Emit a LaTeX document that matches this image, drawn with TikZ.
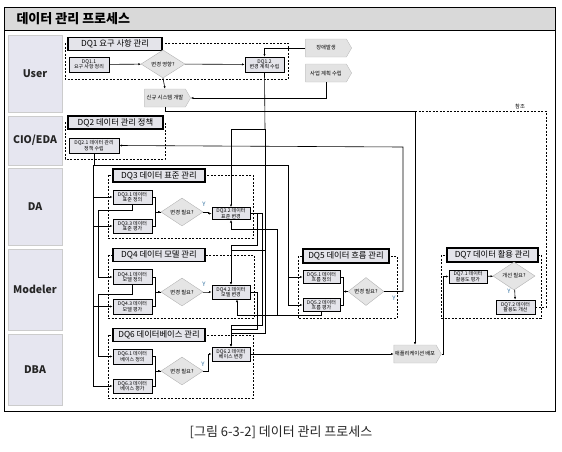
\documentclass[tikz,border=0pt]{standalone}
\usepackage{fontspec}
\setmainfont{Noto Sans CJK KR}
\usetikzlibrary{arrows.meta,shapes.geometric,shapes.symbols}
\definecolor{lanefill}{HTML}{E6E6F0}
\definecolor{boxfill}{HTML}{E4E4EA}
\definecolor{barfill}{HTML}{D9D9D9}
\definecolor{ylabel}{HTML}{2F6F9F}

\begin{document}
\begin{tikzpicture}[x=1pt,y=-1pt]
\tikzset{
  lanebox/.style={draw=black!20,fill=lanefill,minimum width=54pt,inner sep=0pt,font=\fontsize{10.5}{12}\selectfont\bfseries,text=black!85},
  grouptitle/.style={draw,line width=1.7pt,fill=boxfill,minimum height=13pt,inner sep=0pt,font=\fontsize{8.3}{9}\selectfont},
  taskbox/.style={draw,line width=0.8pt,fill=boxfill,minimum width=39pt,minimum height=14pt,inner sep=0pt,align=center,font=\fontsize{5}{5.4}\selectfont},
  decision/.style={diamond,draw=black!30,fill=black!10,minimum width=42pt,minimum height=18pt,inner sep=0pt,font=\fontsize{5.3}{6}\selectfont},
  eventbox/.style={signal,signal to=east,signal pointer angle=120,draw=black!25,fill=black!11,minimum width=46pt,minimum height=18pt,inner sep=1pt,font=\fontsize{5.3}{6}\selectfont},
  groupframe/.style={dashed,dash pattern=on 2pt off 1.5pt,line width=0.7pt},
  link/.style={line width=0.6pt},
  flow/.style={-{Latex[length=2.6pt,width=2.2pt]},line width=0.6pt},
  yes/.style={font=\fontsize{6}{7}\selectfont,text=ylabel,inner sep=0pt}
}
\useasboundingbox (0,0) rectangle (562,451);

% frame and title bar
\fill[barfill] (4,7) rectangle (555,30);
\draw[line width=0.8pt] (4,7) rectangle (555,411);
\draw[line width=1pt] (4,30) -- (555,30);
\node[anchor=west,font=\fontsize{13}{15}\selectfont\bfseries] (title) at (13,19) {데이터 관리 프로세스};

% lanes
\node[lanebox,minimum height=77pt] (ln_user) at (35,73.5) {User};
\node[lanebox,minimum height=49pt] (ln_cio) at (35,140.5) {CIO/EDA};
\node[lanebox,minimum height=77pt] (ln_da) at (35,206.5) {DA};
\node[lanebox,minimum height=81pt] (ln_mod) at (35,289.5) {Modeler};
\node[lanebox,minimum height=71pt] (ln_dba) at (35,369.5) {DBA};

% group frames
\draw[groupframe] (65,43) rectangle (288,79);
\draw[groupframe] (65,122) rectangle (165,159);
\draw[groupframe] (108,175) rectangle (253,238);
\draw[groupframe] (108,255) rectangle (254,318);
\draw[groupframe] (108,335) rectangle (253,398);
\draw[groupframe] (298,256) rectangle (397,318);
\draw[groupframe] (441,255) rectangle (541,318);

% bus points
\coordinate (refpt) at (415,111);
\coordinate (refend) at (546,111);
\coordinate (polpt) at (403,147);
\coordinate (defbus) at (93,165);
\coordinate (defrt) at (288,165);
\coordinate (chgbus) at (265,129);
\coordinate (chgl) at (231,129);
\coordinate (chg4) at (265,250);
\coordinate (chg6) at (265,333);
\coordinate (s1) at (257,245);
\coordinate (s2) at (262,325);
\coordinate (s3) at (257,329);
\coordinate (m1) at (237,315);
\coordinate (m2) at (277,229);
\coordinate (m3) at (277,315);
\coordinate (m4) at (231,229);
\coordinate (t1) at (98,210);
\coordinate (t2) at (98,294);
\coordinate (depin) at (443,354);

% DQ1
\node[grouptitle,minimum width=94pt] (dq1t) at (115,44) {DQ1 요구 사항 관리};
\node[taskbox,minimum width=40pt,minimum height=15pt] (dq11) at (89,64.5) {DQ1.1\\요구 사항 정리};
\node[decision,minimum width=44pt] (dq1d) at (163,64) {변경 영향?};
\node[taskbox,minimum height=15pt] (dq12) at (264.5,64.5) {DQ1.2\\변경 계획 수립};
\node[eventbox] (ev_fail) at (326,48) {장애발생};
\node[eventbox] (ev_plan) at (326,73) {사업 계획 수립};
\node[eventbox] (ev_new) at (165,98) {신규 시스템 개발};

% DQ2
\node[grouptitle,minimum width=95pt] (dq2t) at (115.5,122.5) {DQ2 데이터 관리 정책};
\node[taskbox,minimum width=50pt,minimum height=15pt] (dq21) at (94,145.5) {DQ2.1 데이터 관리\\정책 수립};

% DQ3
\node[grouptitle,minimum width=92pt] (dq3t) at (159,175.5) {DQ3 데이터 표준 관리};
\node[taskbox] (dq31) at (132.5,197) {DQ3.1 데이터\\표준 정의};
\node[taskbox] (dq33) at (132.5,226) {DQ3.3 데이터\\표준 평가};
\node[decision] (dq3d) at (182,212) {변경 필요?};
\node[taskbox,minimum width=38pt,minimum height=12pt] (dq32) at (231,213.5) {DQ3.2 데이터\\표준 변경};

% DQ4
\node[grouptitle,minimum width=92pt] (dq4t) at (159,255) {DQ4 데이터 모델 관리};
\node[taskbox,minimum height=15pt] (dq41) at (132.5,277) {DQ4.1 데이터\\모델 정의};
\node[taskbox,minimum height=15pt] (dq43) at (132.5,306.5) {DQ4.3 데이터\\모델 평가};
\node[decision] (dq4d) at (182,292) {변경 필요?};
\node[taskbox,minimum width=38pt,minimum height=14pt] (dq42) at (231,292) {DQ4.2 데이터\\모델 변경};

% DQ6
\node[grouptitle,minimum width=92pt] (dq6t) at (159,335) {DQ6 데이터베이스 관리};
\node[taskbox,minimum height=15pt] (dq61) at (132.5,356.5) {DQ6.1 데이터\\베이스 정의};
\node[taskbox] (dq63) at (132.5,386) {DQ6.3 데이터\\베이스 평가};
\node[decision] (dq6d) at (182,371) {변경 필요?};
\node[taskbox,minimum width=38pt] (dq62) at (231,354) {DQ6.2 데이터\\베이스 변경};

% DQ5
\node[grouptitle,minimum width=86pt,minimum height=14pt] (dq5t) at (346,256) {DQ5 데이터 흐름 관리};
\node[taskbox,minimum width=37pt,minimum height=13pt] (dq51) at (321.5,277) {DQ5.1 데이터\\흐름 정의};
\node[taskbox,minimum width=37pt,minimum height=13pt] (dq52) at (321.5,305) {DQ5.2 데이터\\흐름 평가};
\node[decision,minimum width=36pt,minimum height=17pt] (dq5d) at (366,291.5) {변경 필요?};

% DQ7
\node[grouptitle,minimum width=91pt,minimum height=14pt] (dq7t) at (492.5,255) {DQ7 데이터 활용 관리};
\node[taskbox,minimum width=38pt,minimum height=13pt] (dq71) at (468,276.5) {DQ7.1 데이터\\활용도 평가};
\node[decision] (dq7d) at (514,276) {개선 필요?};
\node[taskbox,minimum width=39pt] (dq72) at (515.5,307) {DQ7.2 데이터\\활용도 개선};
\node[eventbox] (ev_dep) at (415,354) {애플리케이션 배포};

% DQ1 flows
\draw[flow] (dq11) -- (dq1d);
\draw[flow] (dq1d) -- (dq12);
\draw[flow] (dq1d.south) -- (ev_new.north);
\draw[flow] (ev_fail.west) -| (dq12.north);
\draw[flow] (ev_plan.south) |- (ev_new.east);
\draw[flow] (ev_new.south) |- (refpt) -- (ev_dep.north);
\draw[groupframe] (refpt) -- (refend) |- (dq72.east);
\node[font=\fontsize{5.3}{6}\selectfont] (refl) at (520,106) {참조};

% policy
\draw[flow] (dq5d.east) -| (polpt) -- (dq21.east);
\node[yes] (y5) at (394,298) {Y};
\draw[flow] (dq21.south) |- (defrt) |- (dq51.west);
\draw[flow] (defrt) |- (dq52.west);
\draw[flow] (defbus) |- (dq31.west);
\draw[flow] (defbus) |- (dq33.west);
\draw[flow] (defbus) |- (dq43.west);
\draw[flow] (defbus) |- (dq63.west);
\draw[flow] (dq31.south) |- (t1) |- (dq41.west);
\draw[flow] (dq41.south) |- (t2) |- (dq61.west);

% change plan
\draw[link] (dq12.south) -- (chgbus);
\draw[flow] (chgbus) -- (chgl) -- (dq32.north);
\draw[flow] (chgbus) -- (chg4) -| (dq42.north);
\draw[flow] (chg4) -- (chg6) -| (dq62.north);
\draw[flow] (dq32.east) -| (s1) -| (dq42.north);
\draw[flow] (dq32.east) -| (s2) -| (dq62.north);
\draw[flow] (dq42.east) -| (s3) -| (dq62.north);
\draw[flow] (dq52.south) |- (m1) -- (dq42.south -| m1);
\draw[flow] (m3) -- (m2) -- (m4) -- (dq32.south);

% decisions
\foreach \g in {3,4,6}{
  \draw[flow] (dq\g1.east) -- ++(3,0) |- (dq\g d.west);
  \draw[link] (dq\g3.east) -- ++(3,0) |- (dq\g d.west);
  \draw[flow] (dq\g d.east) -- ++(5,0) |- (dq\g2.west);
}
\node[yes] (y3) at (204,204) {Y};
\node[yes] (y4) at (204,284) {Y};
\node[yes] (y6) at (203,364) {Y};
\draw[flow] (dq51.east) -- ++(3,0) |- (dq5d.west);
\draw[link] (dq52.east) -- ++(3,0) |- (dq5d.west);

% DQ7
\draw[flow] (dq71) -- (dq7d);
\draw[flow] (dq7d) -- (dq72);
\node[yes] (y7) at (509,291) {Y};
\draw[flow] (dq62.east) -- (ev_dep.west);
\draw[flow] (ev_dep.east) -| (depin) |- (dq71.west);

% caption
\node[font=\fontsize{13}{15}\selectfont,text=black!85] (cap) at (281,432) {[그림 6-3-2] 데이터 관리 프로세스};
\end{tikzpicture}
\end{document}
